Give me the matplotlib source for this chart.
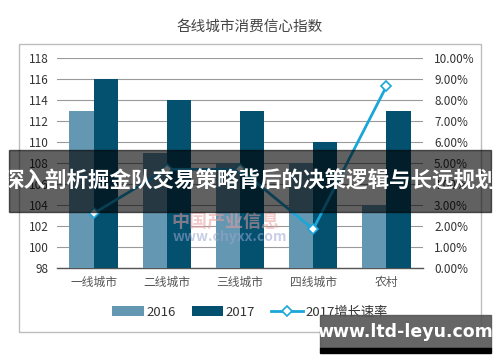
import numpy as np
import matplotlib.pyplot as plt
from matplotlib.patches import Rectangle

plt.rcParams['font.family'] = ['Noto Sans CJK SC', 'DejaVu Sans']

# data
categories = ['一线城市', '二线城市', '三线城市', '四线城市', '农村']
index_2016 = [113, 109, 108, 108, 104]
index_2017 = [116, 114, 113, 110, 113]
growth_2017 = [2.6, 4.7, 4.7, 1.85, 8.65]   # percent
left_ticks = [98, 100, 102, 104, 106, 108, 110, 112, 114, 116, 118]
right_ticks = [0, 1, 2, 3, 4, 5, 6, 7, 8, 9, 10]

c2016 = '#6497b1'
c2017 = '#03506f'
cline = '#1ba6da'

fig = plt.figure(figsize=(5.0, 3.62), dpi=100)

# outer frame of the chart
frame = Rectangle((19 / 500, 1 - 332 / 362), (481 - 19) / 500, (332 - 44) / 362,
                  transform=fig.transFigure, fill=False, edgecolor='#bdbdbd', lw=1.0)
fig.patches.append(frame)

ax = fig.add_axes([57 / 500, 1 - 268 / 362, (423 - 57) / 500, (268 - 58) / 362])
x = np.arange(len(categories))
w = 0.33
ax.bar(x - w / 2, [v - 98 for v in index_2016], w, bottom=98, color=c2016, label='2016', zorder=3)
ax.bar(x + w / 2, [v - 98 for v in index_2017], w, bottom=98, color=c2017, label='2017', zorder=3)
ax.set_ylim(98, 118)
ax.set_xlim(-0.5, len(categories) - 0.5)
ax.set_yticks(left_ticks)
ax.set_yticklabels([str(t) for t in left_ticks], fontsize=8.5, color='#333333')
ax.set_xticks(x)
ax.set_xticklabels(categories, fontsize=8.5, color='#555555')
ax.tick_params(axis='both', length=0, pad=6)
ax.grid(axis='y', color='#9a9a9a', lw=0.8, zorder=0)
for s in ['top', 'right', 'left']:
    ax.spines[s].set_visible(False)
ax.spines['bottom'].set_color('#555555')
ax.spines['bottom'].set_linewidth(1.0)
ax.patch.set_alpha(0)

ax2 = ax.twinx()
ax2.plot(x, growth_2017, color=cline, lw=2.0, marker='D', markersize=5,
         markerfacecolor='white', markeredgecolor=cline, markeredgewidth=1.2,
         label='2017增长速率', zorder=5)
ax2.set_ylim(0, 10)
ax2.set_yticks(right_ticks)
ax2.set_yticklabels(['%.2f%%' % t for t in right_ticks], fontsize=8.5, color='#333333')
ax2.tick_params(axis='y', length=0, pad=8)
for s in ax2.spines.values():
    s.set_visible(False)

# faint source watermark in the middle
fig.text(0.45, 1 - 222 / 362, '中国产业信息', fontsize=13, color='#e8a0a0', alpha=0.55,
         ha='center', va='center', fontweight='bold')
fig.text(0.46, 1 - 237 / 362, 'www.chyxx.com', fontsize=10, color='#9aa6d0', alpha=0.55,
         ha='center', va='center', fontweight='bold')

h1, l1 = ax.get_legend_handles_labels()
h2, l2 = ax2.get_legend_handles_labels()
fig.legend(h1 + h2, l1 + l2, loc='center', bbox_to_anchor=(0.5, 1 - 312 / 362),
           ncol=3, frameon=False, fontsize=9.5, handlelength=2.4, columnspacing=1.2,
           handletextpad=0.2, labelcolor='#333333')

fig.text(0.5, 1 - 27 / 362, '各线城市消费信心指数', fontsize=10.5, color='#444444',
         ha='center', va='center')

# dark banner with headline
banner = Rectangle((9 / 500, 1 - 212 / 362), (491 - 9) / 500, (212 - 150) / 362,
                   transform=fig.transFigure, color='black', alpha=0.62, zorder=10)
fig.patches.append(banner)
fig.text(0.5, 1 - 181 / 362, '深入剖析掘金队交易策略背后的决策逻辑与长远规划', fontsize=15.5,
         color='white', fontweight='bold', ha='center', va='center', zorder=11)

# site watermark bottom right
wm = Rectangle((320 / 500, 1 - 348 / 362), (491 - 320) / 500, (348 - 315) / 362,
               transform=fig.transFigure, color='#555555', alpha=0.9, zorder=10)
fig.patches.append(wm)
wm2 = Rectangle((320 / 500, 1 - 353 / 362), (491 - 320) / 500, 5 / 362,
                transform=fig.transFigure, color='black', zorder=10)
fig.patches.append(wm2)
fig.text(405 / 500, 1 - 332 / 362, 'www.ltd-leyu.com', fontsize=12.5, color='white',
         fontweight='bold', ha='center', va='center', zorder=11, family='DejaVu Sans')

fig.savefig('out.png', dpi=100)
